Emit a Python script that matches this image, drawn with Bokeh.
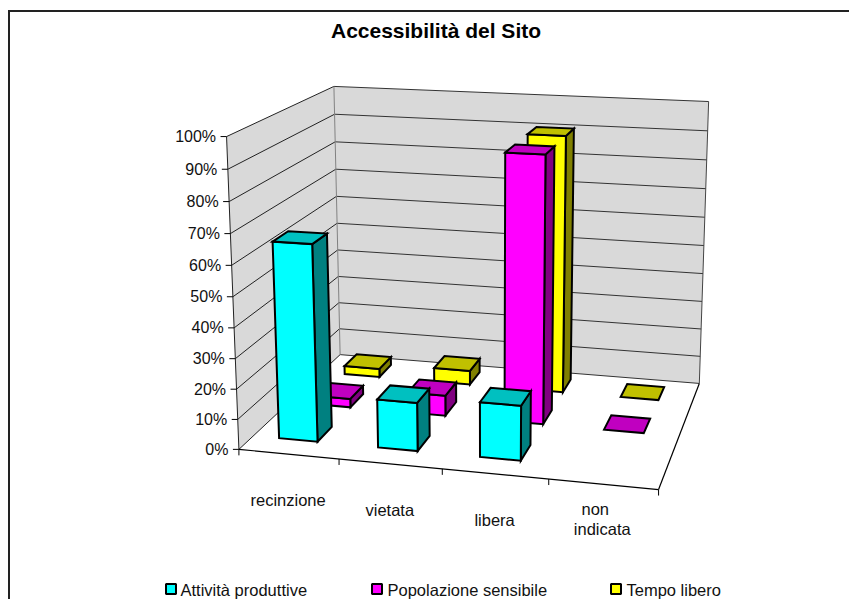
import numpy as np
from bokeh.plotting import figure
from bokeh.models import Range1d
from bokeh.core.properties import value
from bokeh.embed import file_html
from bokeh.resources import INLINE

title = "Accessibilità del Sito"
categories = ["recinzione", "vietata", "libera", "non\nindicata"]
y_ticks = [0, 10, 20, 30, 40, 50, 60, 70, 80, 90, 100]
series_names = ["Attività produttive", "Popolazione sensibile", "Tempo libero"]
attivita = [65, 16, 18, None]
popolazione = [3, 7, 90, 0]
tempo = [3, 5, 90, 0]

front = ["#00FFFF", "#FF00FF", "#FFFF00"]
top = ["#00C0C0", "#C000C0", "#C0C000"]
side = ["#008080", "#800080", "#808000"]

# camera calibration: box corners (u, h, z) -> page pixels
calib = [((0, 0, 0), (239, 449)), ((0, 1, 0), (225.5, 136)), ((1, 0, 0), (658, 489)),
         ((1, 0, 1), (699, 383)), ((0, 0, 1), (339, 354)), ((0, 1, 1), (334, 86)),
         ((1, 1, 1), (708, 101))]
A = []
for (X, Y, Z), (px, py) in calib:
    A.append([X, Y, Z, 1, 0, 0, 0, 0, -px*X, -px*Y, -px*Z, -px])
    A.append([0, 0, 0, 0, X, Y, Z, 1, -py*X, -py*Y, -py*Z, -py])
P = np.linalg.svd(np.array(A, float))[2][-1].reshape(3, 4)

def proj(u, h, z):
    v = P @ np.array([u, h, z, 1.0])
    return v[0]/v[2], v[1]/v[2]

W, H = 849, 599
p = figure(width=W, height=H, x_range=Range1d(0, W), y_range=Range1d(H, 0),
           output_backend="svg", toolbar_location=None, min_border=0,
           x_axis_type=None, y_axis_type=None, outline_line_color=None)
p.grid.visible = False
FONT = value("Liberation Sans")

def poly(pts, fill, line="black", w=1.0):
    xy = [proj(*q) for q in pts]
    p.patch([a for a, _ in xy], [b for _, b in xy], fill_color=fill, line_color=line,
            line_width=w, line_join="miter")

def seg(a, b, color="black", w=1.0):
    pa, pb = proj(*a), proj(*b)
    p.line([pa[0], pb[0]], [pa[1], pb[1]], line_color=color, line_width=w)

# chart frame: open on the right, running off the page
p.line([8.5, 8.5, 849], [599, 10.5, 10.5], line_color="#222222", line_width=2, line_join="miter")

# walls
poly([(0, 0, 0), (0, 1, 0), (0, 1, 1), (0, 0, 1)], "#D9D9D9", None)
poly([(0, 0, 1), (0, 1, 1), (1, 1, 1), (1, 0, 1)], "#D9D9D9", None)
for t in y_ticks:
    h = t/100
    seg((0, h, 0), (0, h, 1), "#222222", 1)
    seg((0, h, 1), (1, h, 1), "#333333", 1)
seg((0, 0, 1), (0, 1, 1), "#808080", 1)
seg((1, 0, 1), (1, 1, 1), "#444444", 1)
seg((0, 0, 0), (0, 1, 0), "#222222", 1)

# floor edges
seg((0, 0, 0), (1, 0, 0), "black", 1.2)
seg((1, 0, 0), (1, 0, 1), "black", 1.2)

# axis ticks
for t in y_ticks:
    x0, y0 = proj(0, t/100, 0)
    p.line([x0-6, x0], [y0, y0], line_color="black", line_width=1)
    p.text([x0-10.5], [y0], text=[f"{t}%"], text_align="right", text_baseline="middle",
           text_font=FONT, text_font_size="16px", text_color="#111111")
for i in range(len(categories)+1):
    x0, y0 = proj(i/len(categories), 0, 0)
    p.line([x0, x0], [y0, y0+6], line_color="black", line_width=1)

# bars, back row first
z_c = [0.195, 0.53, 0.86]
dz, du, u_shift = 0.07, 0.049, -0.010
rows = [attivita, popolazione, tempo]
for s in [2, 1, 0]:
    for c, val in enumerate(rows[s]):
        if val is None:
            continue
        uc = (c+0.5)/len(categories) + u_shift
        u0, u1, z0, z1, h = uc-du, uc+du, z_c[s]-dz, z_c[s]+dz, val/100
        if val > 0:
            poly([(u1, 0, z0), (u1, h, z0), (u1, h, z1), (u1, 0, z1)], side[s], "black", 2)
            poly([(u0, 0, z0), (u0, h, z0), (u1, h, z0), (u1, 0, z0)], front[s], "black", 2)
        poly([(u0, h, z0), (u0, h, z1), (u1, h, z1), (u1, h, z0)], top[s], "black", 2)

# category labels
for c, name in enumerate(categories):
    x0, y0 = proj((c+0.5)/len(categories), 0, 0)
    lines = name.split("\n")
    if len(lines) == 1:
        p.text([x0-0.5], [y0+46], text=[name], text_align="center", text_baseline="middle",
               text_font=FONT, text_font_size="16.5px", text_color="#111111")
    else:
        for ln, dx, dy in zip(lines, [-8, -1], [25, 45]):
            p.text([x0+dx], [y0+dy], text=[ln], text_align="center", text_baseline="middle",
                   text_font=FONT, text_font_size="16.5px", text_color="#111111")

# title
p.text([435.5], [30], text=[title], text_align="center", text_baseline="middle",
       text_font=FONT, text_font_style="bold", text_font_size="21px", text_color="black")

# legend
for s, (sx, tx) in enumerate([(170.5, 180), (376.5, 387), (615.5, 626)]):
    p.rect([sx], [588.5], width=10, height=10, fill_color=front[s], line_color="black", line_width=2)
    p.text([tx], [589.5], text=[series_names[s]], text_align="left", text_baseline="middle",
           text_font=FONT, text_font_size="16.5px", text_color="#111111")

open("out.html", "w").write(file_html(p, INLINE))
